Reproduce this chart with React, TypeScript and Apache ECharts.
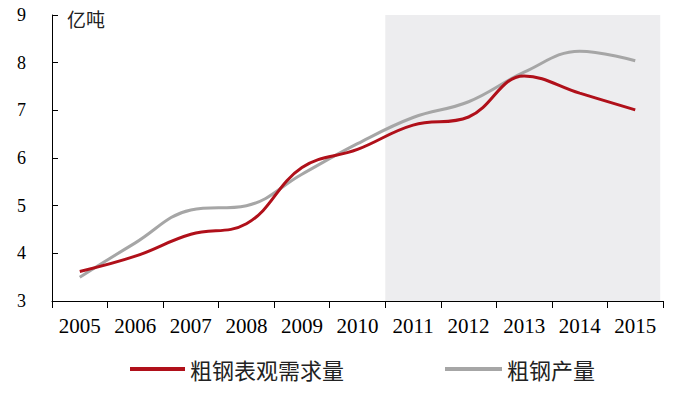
import React, { useEffect, useRef } from "react";
import * as echarts from "echarts";

const years = ["2005", "2006", "2007", "2008", "2009", "2010", "2011", "2012", "2013", "2014", "2015"];
const demand = [3.62, 3.94, 4.4, 4.62, 5.8, 6.18, 6.69, 6.86, 7.72, 7.36, 7.01];
const production = [3.5, 4.22, 4.91, 5.0, 5.66, 6.3, 6.85, 7.18, 7.8, 8.24, 8.04];
const demandName = "粗钢表观需求量";
const productionName = "粗钢产量";
const unitLabel = "亿吨";
const shadeRange = [6, 10.95];

export default function App() {
  const ref = useRef<HTMLDivElement>(null);
  useEffect(() => {
    if (!ref.current) return;
    const chart = echarts.init(ref.current, null, { renderer: "svg" });
    const serif = "'Liberation Serif', 'Times New Roman', serif";
    const cjk = "'Noto Sans CJK SC', sans-serif";
    chart.setOption({
      animation: false,
      backgroundColor: "#fff",
      grid: { left: 52, right: 22, top: 15, bottom: 95, containLabel: false },
      legend: [
        {
          data: [demandName],
          left: 130,
          top: 358,
          padding: 0,
          icon: "rect",
          itemWidth: 55,
          itemHeight: 4,
          itemGap: 0,
          textStyle: { fontFamily: cjk, fontSize: 22, color: "#222" },
        },
        {
          data: [productionName],
          left: 445,
          top: 358,
          padding: 0,
          icon: "rect",
          itemWidth: 57,
          itemHeight: 4,
          textStyle: { fontFamily: cjk, fontSize: 22, color: "#222" },
        },
      ],
      graphic: [
        {
          type: "text",
          left: 67,
          top: 9,
          style: { text: unitLabel, font: `19px ${cjk}`, fill: "#222" },
        },
      ],
      xAxis: [
        {
          type: "category",
          data: years,
          boundaryGap: true,
          axisLine: { lineStyle: { color: "#000", width: 1 } },
          axisTick: { show: true, length: 7, inside: false, lineStyle: { color: "#000" } },
          axisLabel: { fontFamily: serif, fontSize: 21, color: "#000", margin: 14, interval: 0 },
          splitLine: { show: false },
        },
        {
          type: "value",
          min: 0,
          max: 11,
          show: false,
          gridIndex: 0,
        },
      ],
      yAxis: {
        type: "value",
        min: 3,
        max: 9,
        interval: 1,
        axisLine: { show: true, lineStyle: { color: "#000", width: 1 } },
        axisTick: { show: true, inside: true, length: 6, lineStyle: { color: "#000" } },
        axisLabel: { fontFamily: serif, fontSize: 18, color: "#000", margin: 26 },
        splitLine: { show: false },
      },
      series: [
        {
          name: "shade",
          type: "line",
          xAxisIndex: 1,
          data: [[0, 3]],
          symbol: "none",
          lineStyle: { opacity: 0 },
          silent: true,
          z: 0,
          markArea: {
            silent: true,
            itemStyle: { color: "#EDEDEF" },
            data: [[{ xAxis: shadeRange[0], yAxis: 9 }, { xAxis: shadeRange[1], yAxis: 3 }]],
          },
        },
        {
          name: productionName,
          type: "line",
          data: production,
          smooth: 0.4,
          symbol: "none",
          lineStyle: { color: "#A6A6A6", width: 3 },
          itemStyle: { color: "#A6A6A6" },
          z: 2,
        },
        {
          name: demandName,
          type: "line",
          data: demand,
          smooth: 0.4,
          symbol: "none",
          lineStyle: { color: "#B0101A", width: 3 },
          itemStyle: { color: "#B0101A" },
          z: 3,
        },
      ],
    });
    return () => chart.dispose();
  }, []);
  return (
    <div
      ref={ref}
      style={{ position: "fixed", left: 0, top: 0, width: 685, height: 396 }}
    />
  );
}
